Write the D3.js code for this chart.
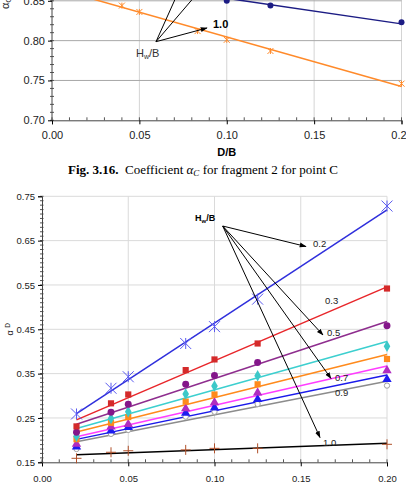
<!DOCTYPE html>
<html>
<head>
<meta charset="utf-8">
<script src="https://cdn.jsdelivr.net/npm/d3@7"></script>
<style>
  html, body { margin: 0; padding: 0; background: #fff; }
  svg { display: block; font-family: "Liberation Sans", Arial, sans-serif; }
</style>
</head>
<body>
<div id="chart"></div>
<script>
// x values shared by both charts (D/B)
const dB = [0.02, 0.04, 0.05, 0.0833, 0.10, 0.125, 0.20];

// top chart (fig 3.16, only the lower part is visible)
const topNavy = [0.880, 0.873, 0.870, 0.858, 0.850, 0.844, 0.823];
const topOrange = [0.857, 0.844, 0.836, 0.812, 0.801, 0.787, 0.746];
const topYTicks = [0.70, 0.75, 0.80, 0.85];
const xTicks = [0, 0.05, 0.10, 0.15, 0.20];

// bottom chart: one array per Hw/B curve
const hw02 = [0.259, 0.317, 0.343, 0.418, 0.456, 0.518, 0.728];
const hw03 = [0.231, 0.283, 0.303, 0.358, 0.382, 0.418, 0.542];
const hw04 = [0.218, 0.263, 0.281, 0.326, 0.346, 0.375, 0.458];
const hw05 = [0.209, 0.249, 0.264, 0.304, 0.322, 0.345, 0.412];
const hw06 = [0.202, 0.239, 0.252, 0.287, 0.303, 0.326, 0.383];
const hw07 = [0.191, 0.230, 0.236, 0.271, 0.285, 0.307, 0.357];
const hw08 = [0.185, 0.221, 0.229, 0.261, 0.273, 0.292, 0.337];
const hw09 = [0.180, 0.214, 0.223, 0.253, 0.264, 0.2815, 0.323];
const hw10 = [0.159, 0.1726, 0.176, 0.178, 0.1815, 0.1815, 0.1906];
const botYTicks = [0.15, 0.25, 0.35, 0.45, 0.55, 0.65, 0.75];
const curveLabels = ["0.2", "0.3", "0.5", "0.7", "0.9", "1.0"];

const width = 406, height = 487;
const svg = d3.select("#chart").append("svg")
    .attr("width", width)
    .attr("height", height);

// least squares line, like the excel trendline
function fit(xs, ys) {
    const mx = d3.mean(xs), my = d3.mean(ys);
    let sxy = 0, sxx = 0;
    xs.forEach((x, i) => { sxy += (x - mx) * (ys[i] - my); sxx += (x - mx) * (x - mx); });
    const b = sxy / sxx;
    return x => my + b * (x - mx);
}

// marker shapes
function starPath(r) {
    return `M${-r},${-r}L${r},${r}M${-r},${r}L${r},${-r}M0,${-r}L0,${r}`;
}
function plusPath(r) {
    return `M${-r},0L${r},0M0,${-r}L0,${r}`;
}

// arrow head
svg.append("defs").append("marker")
    .attr("id", "arr")
    .attr("viewBox", "0 0 10 10")
    .attr("refX", 9).attr("refY", 5)
    .attr("markerWidth", 7).attr("markerHeight", 7)
    .attr("markerUnits", "userSpaceOnUse")
    .attr("orient", "auto")
    .append("path").attr("d", "M0,1.5L10,5L0,8.5Z").attr("fill", "#000");

// ---------------- top chart ----------------
const x1 = d3.scaleLinear().domain([0, 0.2]).range([52, 401.5]);
const y1 = d3.scaleLinear().domain([0.70, 0.85]).range([120.3, 0.8]);
const g1 = svg.append("g");

g1.selectAll(".vg").data(xTicks.slice(1)).enter().append("line")
    .attr("x1", d => x1(d)).attr("x2", d => x1(d))
    .attr("y1", y1(0.70)).attr("y2", -5)
    .attr("stroke", "#d4d4d4").attr("stroke-width", 1);
g1.selectAll(".hg").data(topYTicks.slice(1)).enter().append("line")
    .attr("x1", x1(0)).attr("x2", x1(0.2))
    .attr("y1", d => y1(d)).attr("y2", d => y1(d))
    .attr("stroke", "#a8a8a8").attr("stroke-width", 1);

// minor ticks
g1.selectAll(".mx").data(d3.range(0, 21).map(i => i / 100)).enter().append("line")
    .attr("x1", d => x1(d)).attr("x2", d => x1(d))
    .attr("y1", y1(0.70) - 3).attr("y2", y1(0.70))
    .attr("stroke", "#555");
g1.selectAll(".my").data(d3.range(70, 90).map(i => i / 100)).enter().append("line")
    .attr("x1", x1(0) - 2).attr("x2", x1(0) + 2)
    .attr("y1", d => y1(d)).attr("y2", d => y1(d))
    .attr("stroke", "#555");

g1.append("g")
    .attr("transform", `translate(0,${y1(0.70)})`)
    .call(d3.axisBottom(x1).tickValues(xTicks).tickFormat(d3.format(".2f")).tickSize(4))
    .call(g => g.select(".domain").attr("stroke", "#444"))
    .call(g => g.selectAll("text").attr("font-size", 11).attr("fill", "#222").attr("dy", "1.1em"));
g1.append("g")
    .attr("transform", `translate(${x1(0)},0)`)
    .call(d3.axisLeft(y1).tickValues(topYTicks).tickFormat(d3.format(".2f")).tickSize(4))
    .call(g => g.select(".domain").attr("stroke", "#444").attr("d", `M0,-5V${y1(0.70)}`))
    .call(g => g.selectAll("text").attr("font-size", 11).attr("fill", "#222"));

g1.append("text")
    .attr("x", (x1(0) + x1(0.2)) / 2).attr("y", 156)
    .attr("text-anchor", "middle").attr("font-size", 11).attr("font-weight", "bold")
    .text("D/B");
g1.append("text")
    .attr("transform", "translate(9,9) rotate(-90)")
    .attr("font-size", 11).attr("fill", "#222")
    .text("α").append("tspan").attr("font-size", 8).attr("dy", 2).text("C");

const topSeries = [
    { vals: topNavy, color: "#1c1c84" },
    { vals: topOrange, color: "#ff8a2a" }
];
topSeries.forEach(s => {
    const f = fit(dB, s.vals);
    g1.append("line")
        .attr("x1", x1(0.02)).attr("y1", y1(f(0.02)))
        .attr("x2", x1(0.2)).attr("y2", y1(f(0.2)))
        .attr("stroke", s.color).attr("stroke-width", 1.5);
});
g1.selectAll(".nv").data(dB).enter().append("circle")
    .attr("cx", d => x1(d)).attr("cy", (d, i) => y1(topNavy[i]))
    .attr("r", 3).attr("fill", "#1c1c84");
g1.selectAll(".or").data(dB).enter().append("path")
    .attr("transform", (d, i) => `translate(${x1(d)},${y1(topOrange[i])})`)
    .attr("d", starPath(3)).attr("stroke", "#ff8a2a").attr("fill", "none");

// Hw/B annotation, top chart
const o1 = [156, 41.7];
[[207, 28, true], [177, -5, false], [196, -5, false]].forEach(p => {
    g1.append("line")
        .attr("x1", o1[0]).attr("y1", o1[1]).attr("x2", p[0]).attr("y2", p[1])
        .attr("stroke", "#000").attr("stroke-width", 1)
        .attr("marker-end", p[2] ? "url(#arr)" : null);
});
g1.append("text").attr("x", 213).attr("y", 28)
    .attr("font-size", 11).attr("font-weight", "bold").text("1.0");
const hwTop = g1.append("text").attr("x", 136).attr("y", 57)
    .attr("font-size", 11).attr("fill", "#333");
hwTop.append("tspan").text("H");
hwTop.append("tspan").attr("font-size", 7).attr("dy", 2).text("w");
hwTop.append("tspan").attr("dy", -2).text("/B");

// caption
const cap = svg.append("text")
    .attr("x", width / 2).attr("y", 174)
    .attr("text-anchor", "middle")
    .attr("font-family", "'Liberation Serif', 'Times New Roman', serif")
    .attr("font-size", 13);
cap.append("tspan").attr("font-weight", "bold").text("Fig. 3.16.");
cap.append("tspan").text("\u00a0\u00a0Coefficient ");
cap.append("tspan").attr("font-style", "italic").text("α");
cap.append("tspan").attr("font-style", "italic").attr("font-size", 9).attr("dy", 2).text("C");
cap.append("tspan").attr("dy", -2).text(" for fragment 2 for point C");

// ---------------- bottom chart ----------------
const x2 = d3.scaleLinear().domain([0, 0.2]).range([42, 387]);
const y2 = d3.scaleLinear().domain([0.15, 0.75]).range([462.3, 196.3]);
const g2 = svg.append("g");

g2.selectAll(".vg").data(xTicks.slice(1)).enter().append("line")
    .attr("x1", d => x2(d)).attr("x2", d => x2(d))
    .attr("y1", y2(0.15)).attr("y2", y2(0.75))
    .attr("stroke", "#dadada");
g2.selectAll(".hg").data(botYTicks.slice(1)).enter().append("line")
    .attr("x1", x2(0)).attr("x2", x2(0.2))
    .attr("y1", d => y2(d)).attr("y2", d => y2(d))
    .attr("stroke", "#dadada");

g2.selectAll(".mx").data(d3.range(0, 21).map(i => i / 100)).enter().append("line")
    .attr("x1", d => x2(d)).attr("x2", d => x2(d))
    .attr("y1", y2(0.15) - 3).attr("y2", y2(0.15))
    .attr("stroke", "#555");
g2.selectAll(".my").data(d3.range(15, 76).map(i => i / 100)).enter().append("line")
    .attr("x1", x2(0) - 2).attr("x2", x2(0) + 1.5)
    .attr("y1", d => y2(d)).attr("y2", d => y2(d))
    .attr("stroke", "#555");

g2.append("g")
    .attr("transform", `translate(0,${y2(0.15)})`)
    .call(d3.axisBottom(x2).tickValues(xTicks).tickFormat(d3.format(".2f")).tickSize(4))
    .call(g => g.select(".domain").attr("stroke", "#444"))
    .call(g => g.selectAll("text").attr("font-size", 9.5).attr("fill", "#222").attr("dy", "1.3em"));
g2.append("g")
    .attr("transform", `translate(${x2(0)},0)`)
    .call(d3.axisLeft(y2).tickValues(botYTicks).tickFormat(d3.format(".2f")).tickSize(4))
    .call(g => g.select(".domain").attr("stroke", "#444"))
    .call(g => g.selectAll("text").attr("font-size", 9.5).attr("fill", "#222"));

const yLab = g2.append("text")
    .attr("transform", `translate(13,${y2(0.45)}) rotate(-90)`)
    .attr("text-anchor", "middle").attr("font-size", 9).attr("fill", "#222");
yLab.append("tspan").text("α ");
yLab.append("tspan").attr("font-size", 6.5).attr("dy", -3).text("D");

const series = [
    { vals: hw02, line: "#2f2fdc", mark: "#5a5af0", shape: "star" },
    { vals: hw03, line: "#e8262a", mark: "#d42a2a", shape: "square" },
    { vals: hw04, line: "#8e2d8e", mark: "#84168a", shape: "circle" },
    { vals: hw05, line: "#3ccfcf", mark: "#3cc8c8", shape: "diamond" },
    { vals: hw06, line: "#ff8a1c", mark: "#ff8a1c", shape: "square" },
    { vals: hw07, line: "#ff3dff", mark: "#b02cc0", shape: "triangle" },
    { vals: hw08, line: "#1a1aea", mark: "#1c1cf0", shape: "triangle" },
    { vals: hw09, line: "#8c8c8c", mark: "#a0a0a0", shape: "open" },
    { vals: hw10, line: "#000000", mark: "#b0502a", shape: "plus" }
];

series.forEach(s => {
    const f = fit(dB, s.vals);
    g2.append("line")
        .attr("x1", x2(0.02)).attr("y1", y2(f(0.02)))
        .attr("x2", x2(0.2)).attr("y2", y2(f(0.2)))
        .attr("stroke", s.line).attr("stroke-width", 1.5);
});

series.slice().reverse().forEach(s => {
    const pts = g2.selectAll(null).data(dB).enter().append("path")
        .attr("transform", (d, i) => `translate(${x2(d)},${y2(s.vals[i])})`);
    if (s.shape === "star") {
        pts.attr("d", starPath(5.5)).attr("stroke", s.mark).attr("fill", "none");
    } else if (s.shape === "plus") {
        pts.attr("d", plusPath(5)).attr("stroke", s.mark).attr("fill", "none");
    } else if (s.shape === "open") {
        pts.attr("d", d3.symbol(d3.symbolCircle, 22)()).attr("stroke", s.mark).attr("fill", "#fff");
    } else {
        const sym = { square: d3.symbolSquare, circle: d3.symbolCircle, diamond: d3.symbolDiamond, triangle: d3.symbolTriangle }[s.shape];
        pts.attr("d", d3.symbol(sym, 38)()).attr("fill", s.mark);
    }
});

// Hw/B annotation, bottom chart
const o2 = [222.7, 226];
const arrowEnds = [[306, 246.5], [323, 335], [331, 378.5], [320, 437.5]];
arrowEnds.forEach(p => {
    g2.append("line")
        .attr("x1", o2[0]).attr("y1", o2[1]).attr("x2", p[0]).attr("y2", p[1])
        .attr("stroke", "#000").attr("stroke-width", 1)
        .attr("marker-end", "url(#arr)");
});
const hwBot = g2.append("text").attr("x", 195).attr("y", 221)
    .attr("font-size", 9).attr("font-weight", "bold");
hwBot.append("tspan").text("H");
hwBot.append("tspan").attr("font-size", 6).attr("dy", 2).text("w");
hwBot.append("tspan").attr("dy", -2).text("/B");

const labelPos = [[313, 247], [325, 304], [327, 336], [335, 381], [335, 396], [323, 446]];
g2.selectAll(".cl").data(curveLabels).enter().append("text")
    .attr("x", (d, i) => labelPos[i][0]).attr("y", (d, i) => labelPos[i][1])
    .attr("font-size", 9.5).attr("fill", "#222")
    .text(d => d);
</script>
</body>
</html>
